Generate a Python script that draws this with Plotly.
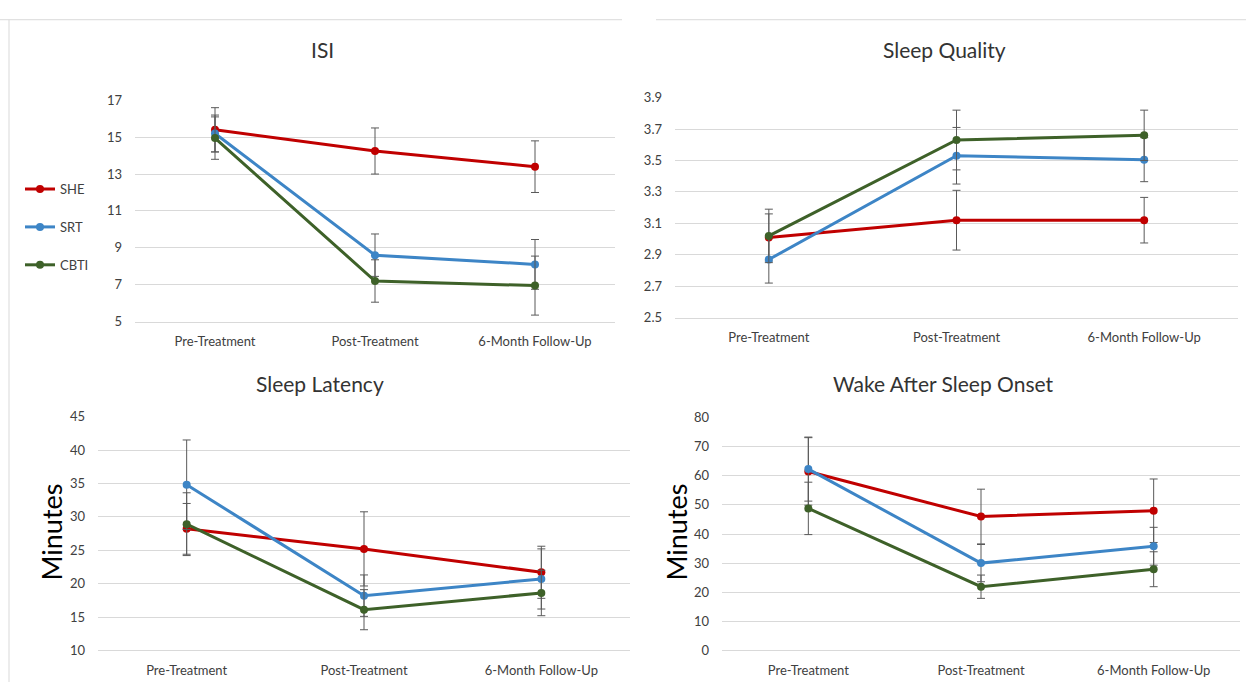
import plotly.graph_objects as go

W, H = 1246, 690

categories = ["Pre-Treatment", "Post-Treatment", "6-Month Follow-Up"]
groups = ["SHE", "SRT", "CBTI"]
colors = {"SHE": "#C00000", "SRT": "#3D85C6", "CBTI": "#3E6129"}

# ISI
isi_she = [15.4, 14.25, 13.4]
isi_she_err = [1.2, 1.25, 1.4]
isi_srt = [15.2, 8.6, 8.1]
isi_srt_err = [1.0, 1.15, 1.35]
isi_cbti = [14.95, 7.2, 6.95]
isi_cbti_err = [1.15, 1.15, 1.6]

# Sleep Quality
sq_she = [3.01, 3.12, 3.12]
sq_she_err = [0.15, 0.19, 0.145]
sq_srt = [2.87, 3.53, 3.505]
sq_srt_err = [0.15, 0.18, 0.14]
sq_cbti = [3.02, 3.63, 3.66]
sq_cbti_err = [0.17, 0.19, 0.16]

# Sleep Latency
sl_she = [28.2, 25.2, 21.7]
sl_she_err = [3.8, 5.55, 3.9]
sl_srt = [34.8, 18.2, 20.7]
sl_srt_err = [6.7, 3.1, 4.5]
sl_cbti = [28.9, 16.1, 18.6]
sl_cbti_err = [4.7, 3.0, 3.4]

# Wake After Sleep Onset
waso_she = [61.5, 46.0, 48.0]
waso_she_err = [11.6, 9.4, 10.9]
waso_srt = [62.3, 30.0, 35.8]
waso_srt_err = [11.0, 6.4, 6.5]
waso_cbti = [48.8, 21.9, 27.9]
waso_cbti_err = [9.0, 4.0, 6.0]

panels = [
    dict(title="ISI", data={"SHE": (isi_she, isi_she_err), "SRT": (isi_srt, isi_srt_err), "CBTI": (isi_cbti, isi_cbti_err)},
         yrange=[5, 17], dtick=2, fmt="d", px=(135, 615), py=(94.5, 321), ytitle=None, tpos=(322, 42)),
    dict(title="Sleep Quality", data={"SHE": (sq_she, sq_she_err), "SRT": (sq_srt, sq_srt_err), "CBTI": (sq_cbti, sq_cbti_err)},
         yrange=[2.5, 3.9], dtick=0.2, fmt=".1f", px=(675, 1238), py=(91.7, 317), ytitle=None, tpos=(944, 42)),
    dict(title="Sleep Latency", data={"SHE": (sl_she, sl_she_err), "SRT": (sl_srt, sl_srt_err), "CBTI": (sl_cbti, sl_cbti_err)},
         yrange=[10, 45], dtick=5, fmt="d", px=(98, 630), py=(418.3, 657.7), ytitle="Minutes", tpos=(320, 384)),
    dict(title="Wake After Sleep Onset", data={"SHE": (waso_she, waso_she_err), "SRT": (waso_srt, waso_srt_err), "CBTI": (waso_cbti, waso_cbti_err)},
         yrange=[0, 80], dtick=10, fmt="d", px=(722, 1240), py=(419.3, 657.7), ytitle="Minutes", tpos=(943, 384)),
]

FONT = "Lato, Carlito, Calibri, sans-serif"
fig = go.Figure()
layout = {}
annotations = []
xs = list(range(len(categories)))

for i, p in enumerate(panels):
    n = "" if i == 0 else str(i + 1)
    for g in groups:
        vals, errs = p["data"][g]
        fig.add_trace(go.Scatter(
            x=xs, y=vals, name=g, legendgroup=g, showlegend=(i == 0),
            mode="lines+markers",
            line=dict(color=colors[g], width=3),
            marker=dict(color=colors[g], size=8),
            error_y=dict(type="data", array=errs, visible=True, color="#595959", thickness=1, width=4),
            xaxis="x" + n, yaxis="y" + n,
        ))
    layout["xaxis" + n] = dict(
        domain=[p["px"][0] / W, p["px"][1] / W], anchor="y" + n,
        range=[-0.5, 2.5], tickvals=xs, ticktext=categories,
        showgrid=False, zeroline=False, showline=True, linecolor="#D9D9D9", linewidth=1,
        ticks="", tickfont=dict(family=FONT, size=13, color="#404040"), ticklabelstandoff=8,
        fixedrange=True,
    )
    layout["yaxis" + n] = dict(
        domain=[1 - p["py"][1] / H, 1 - p["py"][0] / H], anchor="x" + n,
        range=p["yrange"], dtick=p["dtick"], tick0=p["yrange"][0], tickformat=p["fmt"],
        showgrid=True, gridcolor="#D9D9D9", gridwidth=1, zeroline=False, showline=False,
        ticks="", tickfont=dict(family=FONT, size=13, color="#404040"), ticklabelstandoff=12,
        fixedrange=True,
    )
    annotations.append(dict(text=p["title"], x=p["tpos"][0] / W, y=1 - p["tpos"][1] / H,
                            xref="paper", yref="paper", showarrow=False, xanchor="center", yanchor="middle",
                            font=dict(family=FONT, size=21, color="#333333")))
    if p["ytitle"]:
        tx = 52 if i == 2 else 677
        annotations.append(dict(text=p["ytitle"], x=tx / W, y=1 - 537 / H, xref="paper", yref="paper",
                                showarrow=False, textangle=-90, xanchor="center", yanchor="middle",
                                font=dict(family=FONT, size=27, color="#000000")))

shapes = [
    dict(type="line", xref="paper", yref="paper", x0=0, x1=622 / W, y0=1 - 12 / H, y1=1 - 12 / H,
         line=dict(color="#D9D9D9", width=1)),
    dict(type="line", xref="paper", yref="paper", x0=656 / W, x1=1, y0=1 - 12 / H, y1=1 - 12 / H,
         line=dict(color="#D9D9D9", width=1)),
    dict(type="line", xref="paper", yref="paper", x0=9 / W, x1=9 / W, y0=0, y1=1 - 12 / H,
         line=dict(color="#D9D9D9", width=1)),
]

fig.update_layout(
    width=W, height=H, margin=dict(l=0, r=0, t=0, b=0),
    paper_bgcolor="white", plot_bgcolor="white",
    annotations=annotations, shapes=shapes,
    legend=dict(x=20 / W, y=1 - 170 / H, xanchor="left", yanchor="top",
                font=dict(family=FONT, size=13, color="#404040"),
                tracegroupgap=18, bgcolor="rgba(0,0,0,0)"),
    **layout,
)

fig.write_html(
    "out.html",
    config={"displayModeBar": False},
    post_script="document.body.style.margin='0';document.body.style.padding='0';",
)
